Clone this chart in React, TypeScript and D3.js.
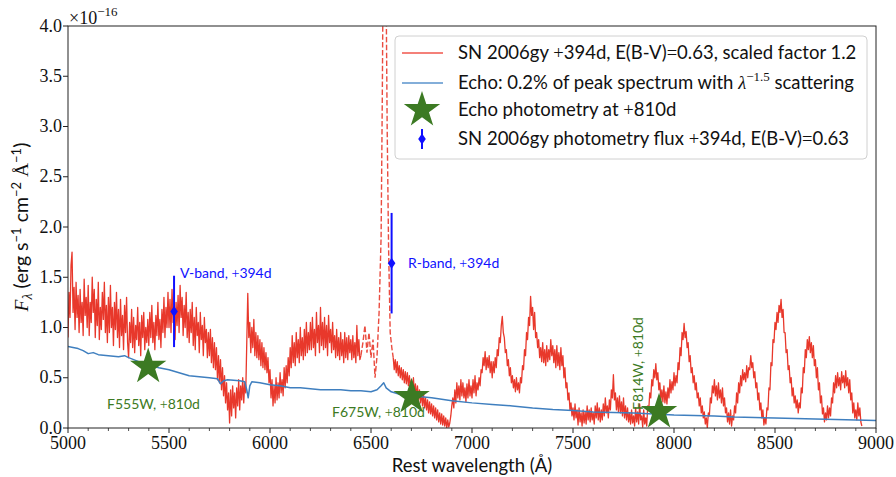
import React from "react";
import * as d3 from "d3";

// ---- data (flux in units of 1e-16 erg s^-1 cm^-2 Å^-1) ----
const specStep = 5;

// SN 2006gy +394d, blue part: 5000–6450 Å
const specAStart = 5000;
const specAFlux = [
  0.90, 1.35, 1.10, 1.62, 1.75, 1.15, 1.40, 0.98, 1.45, 1.10, 1.32, 0.95, 1.38, 1.05, 1.25, 0.92, 1.48, 1.12, 1.30, 1.00,
  1.42, 0.92, 1.25, 1.05, 1.50, 1.15, 1.38, 0.90, 1.28, 1.02, 1.45, 0.88, 1.20, 0.98, 1.35, 1.08, 1.45, 0.95, 1.22, 0.85,
  1.30, 0.95, 1.42, 1.00, 1.20, 0.82, 1.25, 0.98, 1.35, 0.90, 1.18, 0.80, 1.28, 0.92, 1.12, 0.78, 1.22, 0.95, 1.30, 0.85,
  0.70, 1.05, 0.85, 1.18, 0.80, 1.10, 0.75, 1.02, 0.88, 1.20, 0.82, 1.05, 0.72, 1.12, 0.90, 1.15, 0.78, 1.00, 0.85, 1.08,
  0.82, 1.15, 0.90, 1.22, 0.85, 1.05, 0.78, 1.12, 0.92, 1.25, 0.88, 1.08, 0.80, 1.18, 0.95, 1.30, 0.90, 1.20, 1.00, 1.35,
  1.00, 1.28, 0.95, 1.38, 1.05, 1.20, 0.88, 1.25, 1.02, 1.32, 0.95, 1.42, 1.10, 1.30, 0.92, 1.22, 1.00, 1.35, 0.90, 1.15,
  0.85, 1.18, 0.95, 1.25, 0.82, 1.10, 0.78, 1.20, 0.92, 1.05, 0.75, 1.15, 0.88, 1.02, 0.72, 1.10, 0.85, 0.98, 0.70, 0.95,
  0.72, 0.98, 0.65, 0.90, 0.60, 0.85, 0.58, 0.80, 0.48, 0.72, 0.45, 0.68, 0.38, 0.60, 0.32, 0.52, 0.25, 0.45, 0.18, 0.35,
  0.05, 0.38, 0.12, 0.42, 0.20, 0.35, 0.10, 0.40, 0.22, 0.48, 0.18, 0.42, 0.28, 0.50, 0.25, 0.45, 0.35, 0.85, 1.34, 0.90,
  1.05, 0.75, 1.00, 0.80, 1.08, 0.72, 0.95, 0.70, 0.92, 0.68, 0.88, 0.62, 0.85, 0.60, 0.80, 0.58, 0.75, 0.55, 0.70, 0.45,
  0.58, 0.30, 0.48, 0.22, 0.42, 0.25, 0.50, 0.28, 0.45, 0.30, 0.55, 0.35, 0.48, 0.32, 0.60, 0.40, 0.62, 0.45, 0.70, 0.52,
  0.80, 0.60, 0.92, 0.65, 0.85, 0.62, 0.95, 0.70, 0.88, 0.65, 1.00, 0.72, 0.90, 0.68, 0.98, 0.72, 1.05, 0.75, 0.95, 0.78,
  1.05, 0.78, 1.10, 0.80, 0.98, 0.72, 1.15, 0.85, 1.02, 0.75, 1.20, 0.82, 1.05, 0.78, 1.10, 0.80, 1.02, 0.72, 1.12, 0.85,
  0.98, 0.75, 1.05, 0.78, 0.92, 0.70, 0.98, 0.72, 0.90, 0.68, 0.95, 0.72, 0.88, 0.65, 0.95, 0.70, 0.90, 0.68, 0.92, 0.75,
  0.88, 0.68, 0.92, 0.70, 0.85, 0.65, 1.02, 0.72, 0.88, 0.68, 0.72,
];

// H-alpha region, drawn dashed
const haWave = [6450, 6460, 6470, 6480, 6490, 6500, 6510, 6520, 6530, 6540, 6550, 6556, 6562, 6568, 6574, 6580, 6587, 6595, 6603, 6610];
const haFlux = [0.72, 0.85, 1.02, 0.75, 0.95, 0.70, 0.88, 0.50, 0.72, 1.15, 1.90, 3.30, 5.20, 6.00, 4.60, 3.00, 1.80, 0.95, 0.80, 0.70];

// SN 2006gy +394d, red part: 6610–8930 Å
const specBStart = 6610;
const specBFlux = [
  0.70, 0.58, 0.68, 0.55, 0.66, 0.52, 0.62, 0.50, 0.60, 0.48, 0.58, 0.45, 0.56, 0.44, 0.55, 0.42, 0.52, 0.40,
  0.48, 0.36, 0.50, 0.34, 0.44, 0.30, 0.42, 0.28, 0.38, 0.25, 0.36, 0.22, 0.34, 0.20, 0.30, 0.18, 0.28, 0.15, 0.26, 0.14,
  0.24, 0.12, 0.22, 0.10, 0.20, 0.08, 0.18, 0.06, 0.15, 0.04, 0.14, 0.03, 0.12, 0.02, 0.10, 0.00, 0.08, 0.01, 0.05, 0.12,
  0.22, 0.30, 0.20, 0.38, 0.25, 0.45, 0.30, 0.42, 0.28, 0.48, 0.32, 0.45, 0.30, 0.40, 0.26, 0.44, 0.30, 0.48, 0.32, 0.42,
  0.30, 0.48, 0.35, 0.52, 0.32, 0.45, 0.38, 0.50, 0.42, 0.58, 0.55, 0.70, 0.62, 0.76, 0.58, 0.70, 0.60, 0.72, 0.55, 0.66,
  0.50, 0.66, 0.55, 0.70, 0.60, 0.78, 0.72, 0.90, 0.85, 1.02, 1.11, 0.95, 0.90, 0.75, 0.78, 0.62, 0.68, 0.52, 0.60, 0.45,
  0.52, 0.40, 0.48, 0.36, 0.50, 0.38, 0.45, 0.35, 0.50, 0.45, 0.62, 0.58, 0.78, 0.72, 0.95, 0.88, 1.10, 1.02, 1.31, 1.12,
  1.20, 0.98, 1.15, 0.90, 0.95, 0.80, 0.88, 0.70, 0.80, 0.66, 0.85, 0.65, 0.78, 0.62, 0.82, 0.66, 0.78, 0.68, 0.88, 0.72,
  0.82, 0.65, 0.78, 0.60, 0.82, 0.62, 0.75, 0.58, 0.80, 0.62, 0.72, 0.50, 0.60, 0.40, 0.45, 0.28, 0.35, 0.18, 0.25, 0.12,
  0.20, 0.08, 0.24, 0.10, 0.18, 0.03, 0.20, 0.06, 0.15, 0.02, 0.18, 0.05, 0.16, 0.04, 0.22, 0.08, 0.18, 0.06, 0.20, 0.08,
  0.15, 0.04, 0.22, 0.10, 0.25, 0.08, 0.20, 0.06, 0.18, 0.08, 0.24, 0.12, 0.30, 0.15, 0.22, 0.10, 0.28, 0.18, 0.38, 0.30,
  0.53, 0.28, 0.35, 0.18, 0.30, 0.16, 0.32, 0.15, 0.26, 0.12, 0.30, 0.10, 0.22, 0.08, 0.20, 0.06, 0.15, 0.04, 0.18, 0.05,
  0.12, 0.02, 0.20, 0.06, 0.16, 0.04, 0.24, 0.08, 0.12, 0.01, 0.18, 0.04, 0.10, 0.02, 0.22, 0.18, 0.35, 0.30, 0.48, 0.42,
  0.58, 0.50, 0.64, 0.48, 0.55, 0.38, 0.45, 0.28, 0.38, 0.26, 0.42, 0.25, 0.36, 0.24, 0.40, 0.30, 0.48, 0.35, 0.46, 0.38,
  0.55, 0.42, 0.52, 0.45, 0.65, 0.58, 0.80, 0.72, 0.95, 0.88, 1.04, 0.90, 0.96, 0.80, 0.85, 0.66, 0.72, 0.55, 0.60, 0.45,
  0.52, 0.38, 0.45, 0.30, 0.35, 0.22, 0.30, 0.15, 0.22, 0.10, 0.16, 0.04, 0.10, 0.00, 0.15, 0.12, 0.30, 0.25, 0.42, 0.35,
  0.48, 0.32, 0.42, 0.28, 0.45, 0.30, 0.38, 0.25, 0.40, 0.22, 0.30, 0.15, 0.20, 0.06, 0.15, 0.04, 0.18, 0.02, 0.12, 0.08,
  0.22, 0.15, 0.35, 0.25, 0.45, 0.35, 0.52, 0.42, 0.58, 0.48, 0.55, 0.46, 0.62, 0.50, 0.60, 0.58, 0.72, 0.60, 0.65, 0.50,
  0.56, 0.40, 0.45, 0.28, 0.35, 0.18, 0.25, 0.10, 0.18, 0.03, 0.10, 0.04, 0.20, 0.18, 0.40, 0.38, 0.65, 0.62, 0.88, 0.85,
  1.05, 0.98, 1.15, 1.05, 1.22, 1.15, 1.28, 1.10, 1.18, 0.95, 0.95, 0.75, 0.78, 0.58, 0.62, 0.45, 0.50, 0.32, 0.40, 0.25,
  0.32, 0.20, 0.28, 0.15, 0.25, 0.20, 0.40, 0.35, 0.60, 0.55, 0.78, 0.70, 0.88, 0.78, 0.91, 0.75, 0.85, 0.70, 0.82, 0.62,
  0.68, 0.50, 0.60, 0.38, 0.45, 0.25, 0.32, 0.14, 0.20, 0.06, 0.15, 0.08, 0.22, 0.10, 0.20, 0.12, 0.30, 0.25, 0.45, 0.35,
  0.52, 0.40, 0.55, 0.42, 0.50, 0.38, 0.56, 0.45, 0.52, 0.40, 0.57, 0.42, 0.50, 0.35, 0.48, 0.28, 0.35, 0.15, 0.25, 0.10,
  0.18, 0.08, 0.25, 0.12, 0.20, 0.06, 0.02,
];

// Light echo model: 0.2% of peak spectrum with lambda^-1.5 scattering
const echoWave = [
  5000, 5025, 5050, 5075, 5100, 5125, 5150, 5200, 5250, 5280, 5300, 5350, 5400, 5450, 5500,
  5550, 5600, 5650, 5700, 5740, 5755, 5770, 5790, 5850, 5875, 5885, 5892, 5900, 5910, 5950,
  6000, 6050, 6100, 6150, 6200, 6250, 6300, 6350, 6400, 6450, 6500, 6530, 6550, 6563, 6575,
  6600, 6650, 6700, 6800, 6900, 7000, 7100, 7200, 7300, 7400, 7500, 7600, 7700, 7800, 7900,
  8000, 8100, 8200, 8300, 8400, 8500, 8600, 8700, 8800, 8900, 9000,
];
const echoFlux = [
  0.81, 0.80, 0.79, 0.77, 0.74, 0.75, 0.73, 0.72, 0.71, 0.72, 0.70, 0.66, 0.63, 0.60, 0.58,
  0.55, 0.52, 0.51, 0.50, 0.49, 0.44, 0.47, 0.48, 0.47, 0.46, 0.38, 0.30, 0.42, 0.46, 0.45,
  0.43, 0.42, 0.40, 0.40, 0.39, 0.38, 0.38, 0.38, 0.37, 0.37, 0.36, 0.38, 0.42, 0.45, 0.40,
  0.36, 0.33, 0.32, 0.30, 0.27, 0.25, 0.235, 0.22, 0.20, 0.185, 0.175, 0.16, 0.155, 0.15, 0.14,
  0.13, 0.125, 0.12, 0.11, 0.105, 0.10, 0.095, 0.09, 0.085, 0.08, 0.075,
];

// Echo photometry at +810d
const echoBands = ["F555W", "F675W", "F814W"];
const echoPhotWave = [5397, 6701, 7926];
const echoPhotFlux = [0.61, 0.31, 0.16];

// SN photometry at +394d
const snBands = ["V-band", "R-band"];
const snPhotWave = [5525, 6602];
const snPhotFlux = [1.16, 1.64];
const snPhotErr = [0.355, 0.50];

const xTicks = [5000, 5500, 6000, 6500, 7000, 7500, 8000, 8500, 9000];
const yTicks = [0, 0.5, 1.0, 1.5, 2.0, 2.5, 3.0, 3.5, 4.0];

// ---- layout ----
const W = 896;
const H = 477;
const M = { left: 68, right: 20, top: 26, bottom: 49 };
const SERIF = "'Liberation Serif', 'Times New Roman', serif";
const SANS = "Lato, 'Open Sans', sans-serif";
const RED = "#e8382b";
const ECHO = "#3f7fbf";
const GREEN = "#3c7a23";
const PBLUE = "#1010ff";

export default function App() {
  const x = d3.scaleLinear().domain([5000, 9000]).range([M.left, W - M.right]);
  const y = d3.scaleLinear().domain([0, 4]).range([H - M.bottom, M.top]);

  const specA = specAFlux.map((f, i) => [specAStart + i * specStep, f] as [number, number]);
  const specB = specBFlux.map((f, i) => [specBStart + i * specStep, f] as [number, number]);
  const ha = haWave.map((w, i) => [w, haFlux[i]] as [number, number]);
  const echo = echoWave.map((w, i) => [w, echoFlux[i]] as [number, number]);

  const line = d3
    .line<[number, number]>()
    .x((d) => x(d[0]))
    .y((d) => y(d[1]));

  const star = d3.symbol().type(d3.symbolStar).size(410)();
  const minorTicks = d3.range(5000, 9001, 100).filter((v) => v % 500 !== 0);
  const x0 = M.left;
  const x1 = W - M.right;
  const y0 = H - M.bottom;
  const y1 = M.top;

  const diamond = (cx: number, cy: number) =>
    `M${cx},${cy - 5.5}L${cx + 3.8},${cy}L${cx},${cy + 5.5}L${cx - 3.8},${cy}Z`;

  const legendX = 395;
  const legendY = 36;
  const rowY = [53, 83, 110, 139];
  const txtX = 458;

  return (
    <svg
      width={W}
      height={H}
      style={{ position: "absolute", left: 0, top: 0, background: "#fff" }}
    >
      <defs>
        <clipPath id="plotArea">
          <rect x={x0} y={y1} width={x1 - x0} height={y0 - y1} />
        </clipPath>
      </defs>

      <g clipPath="url(#plotArea)">
        <path d={line(specA) || ""} fill="none" stroke={RED} strokeWidth={1.3} strokeLinejoin="round" />
        <path d={line(specB) || ""} fill="none" stroke={RED} strokeWidth={1.3} strokeLinejoin="round" />
        <path d={line(ha) || ""} fill="none" stroke={RED} strokeWidth={1.4} strokeDasharray="5.5,2.4" opacity={0.9} />
        <path d={line(echo) || ""} fill="none" stroke={ECHO} strokeWidth={1.5} strokeLinejoin="round" />

        {snPhotWave.map((w, i) => (
          <g key={snBands[i]}>
            <line
              x1={x(w)}
              x2={x(w)}
              y1={y(snPhotFlux[i] - snPhotErr[i])}
              y2={y(snPhotFlux[i] + snPhotErr[i])}
              stroke={PBLUE}
              strokeWidth={2}
            />
            <path d={diamond(x(w), y(snPhotFlux[i]))} fill={PBLUE} />
          </g>
        ))}

        {echoPhotWave.map((w, i) => (
          <path
            key={echoBands[i]}
            d={star || ""}
            transform={`translate(${x(w)},${y(echoPhotFlux[i])})`}
            fill={GREEN}
          />
        ))}
      </g>

      {/* annotations */}
      <g fontFamily={SANS} fontSize={14}>
        <text x={180} y={278} fill={PBLUE}>
          {snBands[0]}, <tspan fontFamily={SERIF}>+</tspan>394d
        </text>
        <text x={408} y={268} fill={PBLUE}>
          {snBands[1]}, <tspan fontFamily={SERIF}>+</tspan>394d
        </text>
        <text x={107} y={409} fill={GREEN}>
          {echoBands[0]}, <tspan fontFamily={SERIF}>+</tspan>810d
        </text>
        <text x={332} y={417} fill={GREEN}>
          {echoBands[1]}, <tspan fontFamily={SERIF}>+</tspan>810d
        </text>
        <text transform="translate(643,410) rotate(-90)" fill={GREEN}>
          {echoBands[2]}, <tspan fontFamily={SERIF}>+</tspan>810d
        </text>
      </g>

      {/* frame */}
      <rect x={x0} y={y1} width={x1 - x0} height={y0 - y1} fill="none" stroke="#222" strokeWidth={1} />

      {/* x axis ticks */}
      {minorTicks.map((t) => (
        <line key={"m" + t} x1={x(t)} x2={x(t)} y1={y0} y2={y0 + 3} stroke="#222" strokeWidth={0.8} />
      ))}
      {xTicks.map((t) => (
        <g key={"x" + t}>
          <line x1={x(t)} x2={x(t)} y1={y0} y2={y0 + 5} stroke="#222" strokeWidth={1} />
          <text x={x(t)} y={449} textAnchor="middle" fontFamily={SERIF} fontSize={18} fill="#111">
            {t}
          </text>
        </g>
      ))}

      {/* y axis ticks */}
      {yTicks.map((t) => (
        <g key={"y" + t}>
          <line x1={x0 - 5} x2={x0} y1={y(t)} y2={y(t)} stroke="#222" strokeWidth={1} />
          <text x={62} y={y(t) + 5.5} textAnchor="end" fontFamily={SERIF} fontSize={18} fill="#111">
            {t.toFixed(1)}
          </text>
        </g>
      ))}

      {/* offset text */}
      <text x={69} y={24} fontFamily={SERIF} fontSize={18} fill="#111">
        ×10<tspan fontSize={13} dy={-8}>−16</tspan>
      </text>

      {/* axis labels */}
      <text x={(x0 + x1) / 2} y={472} textAnchor="middle" fontFamily={SANS} fontSize={18.5} fill="#111">
        Rest wavelength (Å)
      </text>
      <text transform={`translate(28,${(y0 + y1) / 2}) rotate(-90)`} textAnchor="middle" fontFamily={SANS} fontSize={19.5} fill="#111">
        <tspan fontFamily={SERIF} fontStyle="italic">F</tspan>
        <tspan fontFamily={SERIF} fontStyle="italic" fontSize={14} dy={4}>λ</tspan>
        <tspan dy={-4}> (erg s</tspan>
        <tspan fontSize={13} dy={-7}>−1</tspan>
        <tspan dy={7}> cm</tspan>
        <tspan fontSize={13} dy={-7}>−2</tspan>
        <tspan dy={7} fontFamily={SERIF}> Å</tspan>
        <tspan fontSize={13} dy={-7}>−1</tspan>
        <tspan dy={7}>)</tspan>
      </text>

      {/* legend */}
      <rect x={legendX} y={legendY} width={472} height={123} rx={4} fill="#fff" fillOpacity={0.85} stroke="#d0d0d0" strokeWidth={1} />
      <line x1={402} x2={443} y1={rowY[0]} y2={rowY[0]} stroke="#f0564c" strokeWidth={1.5} />
      <line x1={402} x2={443} y1={rowY[1]} y2={rowY[1]} stroke="#5a93cc" strokeWidth={1.5} />
      <path d={star || ""} transform={`translate(422,${rowY[2]})`} fill={GREEN} />
      <line x1={422} x2={422} y1={rowY[3] - 10} y2={rowY[3] + 10} stroke={PBLUE} strokeWidth={2} />
      <path d={diamond(422, rowY[3])} fill={PBLUE} />

      <g fontFamily={SANS} fontSize={18.5} fill="#111">
        <text x={txtX} y={rowY[0] + 6}>
          SN 2006gy <tspan fontFamily={SERIF}>+</tspan>394d, E(B-V)<tspan fontFamily={SERIF}>=</tspan>0.63, scaled factor 1.2
        </text>
        <text x={txtX} y={rowY[1] + 6}>
          Echo: 0.2% of peak spectrum with <tspan fontFamily={SERIF} fontStyle="italic">λ</tspan>
          <tspan fontFamily={SERIF} fontSize={13} dy={-8}>−1.5</tspan>
          <tspan dy={8}> scattering</tspan>
        </text>
        <text x={txtX} y={rowY[2] + 6}>
          Echo photometry at <tspan fontFamily={SERIF}>+</tspan>810d
        </text>
        <text x={txtX} y={rowY[3] + 6}>
          SN 2006gy photometry flux <tspan fontFamily={SERIF}>+</tspan>394d, E(B-V)<tspan fontFamily={SERIF}>=</tspan>0.63
        </text>
      </g>
    </svg>
  );
}
